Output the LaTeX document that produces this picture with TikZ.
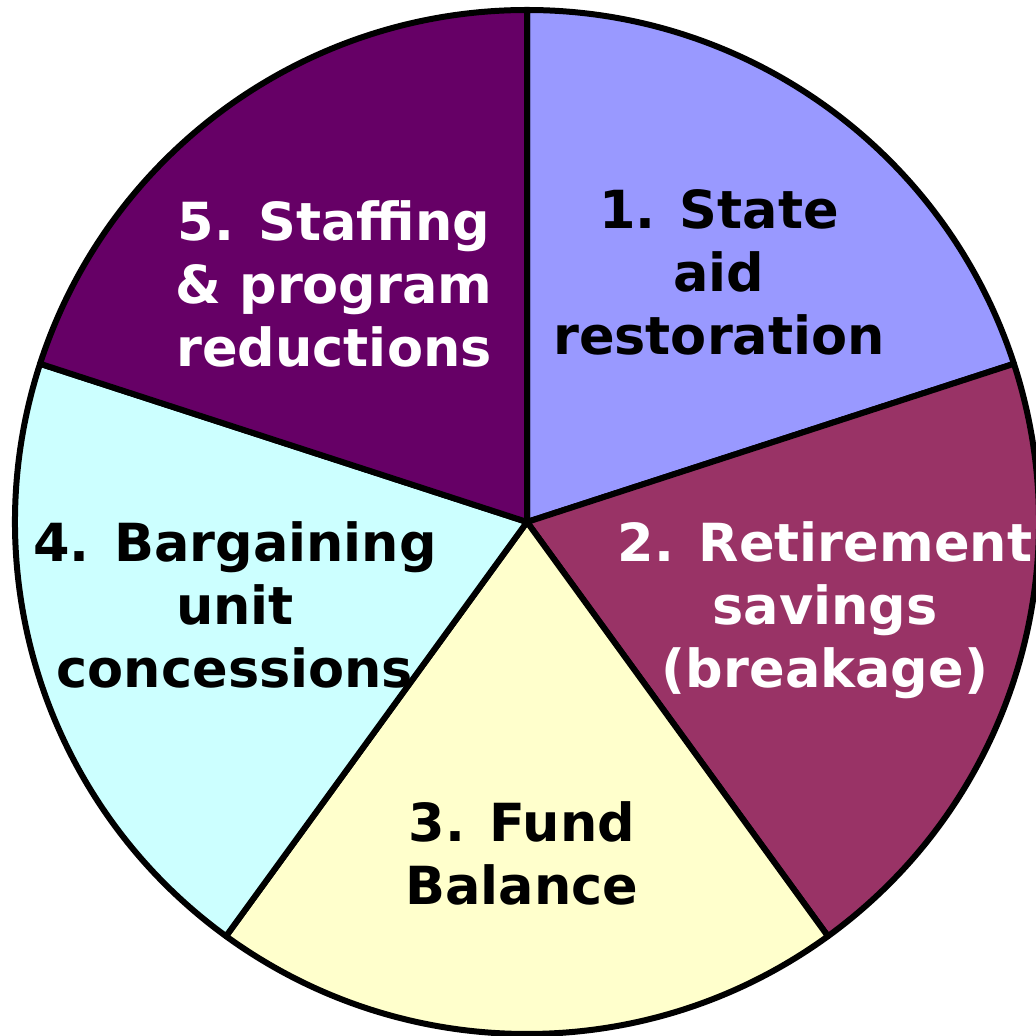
\documentclass[tikz,border=0pt]{standalone}
\usepackage{fontspec}
\setmainfont{DejaVu Sans}
\definecolor{cA}{HTML}{9999FF}
\definecolor{cB}{HTML}{993366}
\definecolor{cC}{HTML}{FFFFCC}
\definecolor{cD}{HTML}{CCFFFF}
\definecolor{cE}{HTML}{660066}
\tikzset{
  slice/.style={draw=black, line width=6pt, line join=round},
  lbl/.style={align=center, anchor=base, inner sep=0pt,
    font=\fontsize{52.5}{63}\selectfont\bfseries}
}
\begin{document}
\begin{tikzpicture}[x=1pt,y=1pt]
\clip (0,0) rectangle (1036,1036);
\useasboundingbox (0,0) rectangle (1036,1036);
\coordinate (C) at (527,514);
\def\R{512}
\filldraw[slice, fill=cA] (C) -- ++(18:\R) arc[start angle=18, end angle=90, radius=\R] -- cycle;
\filldraw[slice, fill=cB] (C) -- ++(-54:\R) arc[start angle=-54, end angle=18, radius=\R] -- cycle;
\filldraw[slice, fill=cC] (C) -- ++(-126:\R) arc[start angle=-126, end angle=-54, radius=\R] -- cycle;
\filldraw[slice, fill=cD] (C) -- ++(162:\R) arc[start angle=162, end angle=234, radius=\R] -- cycle;
\filldraw[slice, fill=cE] (C) -- ++(90:\R) arc[start angle=90, end angle=162, radius=\R] -- cycle;
\node[lbl, text=black] (t1) at (719,681) {1. State\\aid\\restoration};
\node[lbl, text=white] (t2) at (825,348) {2. Retirement\\savings\\(breakage)};
\node[lbl, text=black] (t3) at (522,131) {3. Fund\\Balance};
\node[lbl, text=black] (t4) at (235,348) {4. Bargaining\\unit\\concessions};
\node[lbl, text=white] (t5) at (334,669) {5. Staffing\\\& program\\reductions};
\end{tikzpicture}
\end{document}
